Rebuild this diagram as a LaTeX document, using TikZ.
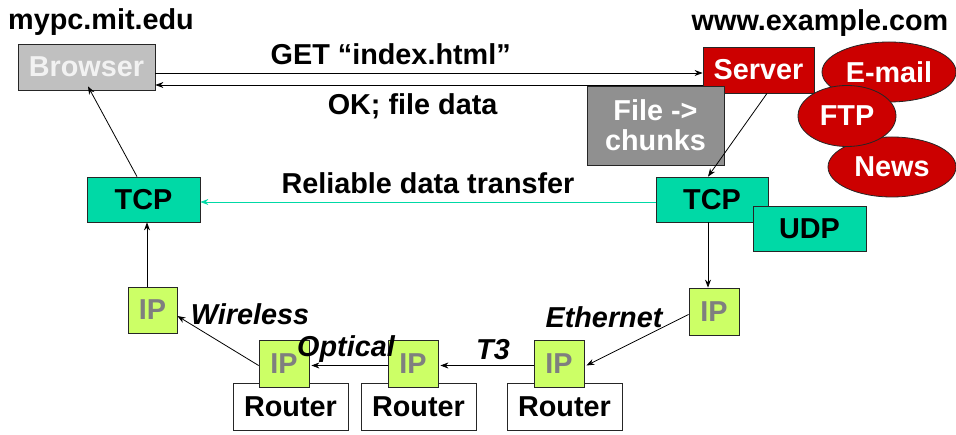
\documentclass[tikz,border=0pt]{standalone}
\usepackage{fontspec}
\setmainfont{Liberation Sans}
\usetikzlibrary{shapes.geometric,arrows.meta}
\definecolor{browsergray}{HTML}{C0C0C0}
\definecolor{filegray}{HTML}{909090}
\definecolor{serverred}{HTML}{CC0000}
\definecolor{tcpgreen}{HTML}{00D9A6}
\definecolor{iplime}{HTML}{CCFF66}
\definecolor{ipgray}{HTML}{7F7F7F}

\begin{document}
\begin{tikzpicture}[x=1pt,y=-1pt,
    every node/.style={font=\fontsize{28.8}{30}\selectfont\bfseries, inner sep=0pt},
    box/.style={draw=black!85, line width=0.8pt},
    hostbox/.style={box, fill=browsergray, text=white!95!black},
    chunkbox/.style={box, fill=filegray, text=white, align=center},
    appbox/.style={box, fill=serverred, text=white},
    appell/.style={ellipse, draw=black!85, line width=0.8pt, fill=serverred, text=white},
    tcpbox/.style={box, fill=tcpgreen, minimum width=113pt, minimum height=45pt},
    ipbox/.style={box, fill=iplime, text=ipgray, minimum width=50pt, minimum height=47pt},
    routerbox/.style={box, fill=white, minimum width=115pt, minimum height=47pt},
    linkname/.style={font=\fontsize{28.8}{30}\selectfont\bfseries\itshape},
    link/.style={-{Stealth[length=8pt,width=6pt]}, line width=0.8pt}]
\useasboundingbox (0,0) rectangle (956,435);

\node (hostA) at (101,22) {mypc.mit.edu};
\node (hostB) at (820,23) {www.example.com};

\node[hostbox, minimum width=137pt, minimum height=46pt] (browser) at (86.5,67) {Browser};
\node[appbox, minimum width=111pt, minimum height=46pt] (server) at (758.5,70) {Server};

\node[appell, minimum width=134pt, minimum height=60pt] (email) at (889,72) {E-mail};
\node[appell, minimum width=128pt, minimum height=60pt] (news) at (892,167) {News};
\node[appell, minimum width=98pt, minimum height=61pt] (ftp) at (847,116) {FTP};

\draw[link] ([yshift=-6pt]browser.east) -- ([yshift=-6pt]browser.east -| server.west)
    node[pos=0.43, above=8pt] (get) {GET “index.html”};
\draw[link] ([yshift=-18pt]browser.east -| server.west) -- ([yshift=-18pt]browser.east)
    node[pos=0.53, below=8pt] (ok) {OK; file data};

\node[chunkbox, minimum width=137pt, minimum height=79pt] (chunks) at (655.5,125.5) {File ->\\chunks};

\node[tcpbox] (tcpA) at (143.5,199.5) {TCP};
\node[tcpbox, minimum width=112pt] (tcpB) at (712,199.5) {TCP};
\node[tcpbox] (udp) at (809.5,228.5) {UDP};

\draw[link] ([xshift=8.5pt]server.south) -- ([xshift=-4pt]tcpB.north);
\draw[link, tcpgreen] ([yshift=-2.5pt]tcpB.west) -- ([yshift=-2.5pt]tcpA.east)
    node[midway, above=8pt, black] (rdt) {Reliable data transfer};

\node[routerbox] (routerA) at (290.5,406.5) {Router};
\node[routerbox] (routerB) at (418.5,406.5) {Router};
\node[routerbox] (routerC) at (564.5,406.5) {Router};

\node[ipbox, minimum width=49pt, minimum height=46pt] (ipA) at (152.5,310) {IP};
\node[ipbox] (ipB) at (284,363.5) {IP};
\node[ipbox] (ipC) at (413,363.5) {IP};
\node[ipbox] (ipD) at (559,363.5) {IP};
\node[ipbox] (ipE) at (714,311.5) {IP};

\draw[link] ([xshift=-4pt]tcpB.south) -- ([xshift=-4pt]tcpB.south |- ipE.north);
\draw[link] ([yshift=-3pt]ipE.west) -- ([xshift=2pt,yshift=-2pt]ipD.east);
\draw[link] ([yshift=-2pt]ipD.west) -- ([xshift=2pt,yshift=-2pt]ipC.east);
\draw[link] ([yshift=-2pt]ipC.west) -- ([xshift=2pt,yshift=-2pt]ipB.east);
\draw[link] ([yshift=-2pt]ipB.west) -- ([yshift=-6pt]ipA.east);
\draw[link] ([xshift=-5.5pt]ipA.north) -- ([xshift=-5.5pt]ipA.north |- tcpA.south);
\draw[link] ([xshift=-6.5pt]tcpA.north) -- ([xshift=1.5pt,yshift=4pt]browser.south);

\node[linkname] (wireless) at (250,314) {Wireless};
\node[linkname] (optical) at (346,349) {Optical};
\node[linkname] (tthree) at (493,350) {T3};
\node[linkname] (ethernet) at (604,317) {Ethernet};
\end{tikzpicture}
\end{document}
